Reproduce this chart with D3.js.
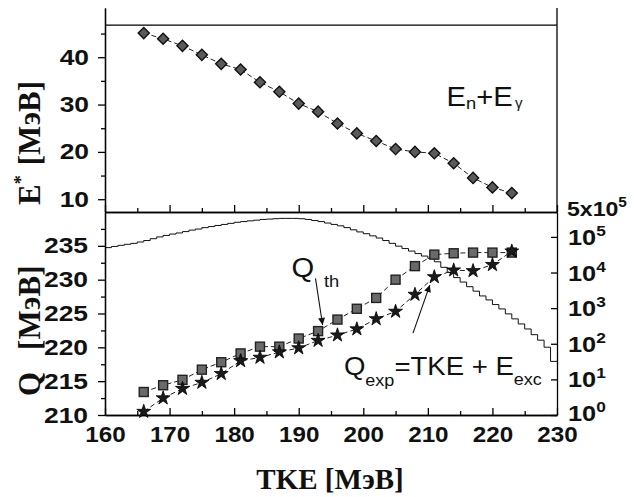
<!DOCTYPE html>
<html>
<head>
<meta charset="utf-8">
<script src="https://cdn.jsdelivr.net/npm/d3@7"></script>
<style>
  body { margin: 0; background: #fff; }
  svg { display: block; }
</style>
</head>
<body>
<svg id="chart" width="637" height="497"></svg>
<script>
// ---- data -------------------------------------------------------------
// fragment total kinetic energy (MeV) of the measured points
const tke = [166, 169, 172, 175, 178, 181, 184, 187, 190, 193,
             196, 199, 202, 205, 208, 211, 214, 217, 220, 223];
// excitation energy E* = En + Eγ (MeV)
const eStar = [45.1, 43.9, 42.4, 40.5, 38.6, 37.4, 34.7, 32.7, 30.2, 28.5,
               26.0, 23.9, 22.3, 20.6, 20.0, 19.7, 17.6, 14.5, 12.5, 11.3];
// upper bound of E*
const eStarLimit = 46.8;
// theoretical Q-value (MeV)
const qTh = [213.4, 214.4, 215.2, 216.7, 217.8, 219.1, 220.1, 220.1, 221.3, 222.4,
             224.1, 225.7, 227.3, 230.0, 232.0, 233.7, 233.9, 234.0, 234.0, 234.0];
// experimental Q = TKE + Eexc (MeV)
const qExp = [210.5, 212.5, 213.9, 214.8, 216.1, 218.0, 218.5, 219.3, 219.9, 221.0,
              221.8, 222.7, 224.2, 225.3, 227.8, 230.4, 231.4, 231.3, 232.2, 234.2];
// TKE distribution, 1 MeV bins (left edges) and counts
const yieldBins = [160, 161, 162, 163, 164, 165, 166, 167, 168, 169,
                   170, 171, 172, 173, 174, 175, 176, 177, 178, 179,
                   180, 181, 182, 183, 184, 185, 186, 187, 188, 189,
                   190, 191, 192, 193, 194, 195, 196, 197, 198, 199,
                   200, 201, 202, 203, 204, 205, 206, 207, 208, 209,
                   210, 211, 212, 213, 214, 215, 216, 217, 218, 219,
                   220, 221, 222, 223, 224, 225, 226, 227, 228, 229];
const yieldCounts = [50000, 54000, 58000, 62000, 66000, 72000, 79000, 89000, 100000, 110000,
                     120000, 129000, 141000, 155000, 166000, 182000, 195000, 209000, 224000, 240000,
                     257000, 269000, 282000, 295000, 309000, 316000, 324000, 331000, 331000, 331000,
                     324000, 309000, 288000, 269000, 245000, 224000, 204000, 182000, 158000, 138000,
                     123000, 107000, 93000, 79000, 66000, 55000, 47000, 40000, 34000, 29000,
                     25000, 20000, 14000, 10000, 7200, 5400, 4000, 3000, 2200, 1700,
                     1260, 950, 690, 500, 360, 260, 180, 126, 80, 32];
const binWidth = 1;

// axis ticks and labels
const xTicks = [160, 170, 180, 190, 200, 210, 220, 230];
const xMinorTicks = [165, 175, 185, 195, 205, 215, 225];
const eTicks = [10, 20, 30, 40];
const eMinorTicks = [15, 25, 35, 45];
const qTicks = [210, 215, 220, 225, 230, 235];
const qMinorTicks = [212.5, 217.5, 222.5, 227.5, 232.5, 237.5];
const countTicks = [1, 10, 100, 1000, 10000, 100000];
const countExponents = ["0", "1", "2", "3", "4", "5"];
const countTopLabel = { mantissa: "5x10", exponent: "5", value: 5e5 };

// ---- layout -----------------------------------------------------------
const svg = d3.select("#chart");
const left = 105, right = 557;
const topY0 = 8, split = 212, bottom = 415;
const stretch = 1.2;             // horizontal stretch of the tick lettering
const tickFont = "'Liberation Sans', Arial, sans-serif";
const titleFont = "'Liberation Serif', 'Times New Roman', serif";

const x = d3.scaleLinear([160, 230], [left, right]);
const yE = d3.scaleLinear([7.3, 50.4], [split, topY0]);
const yQ = d3.scaleLinear([210, 240], [bottom, split]);
const yN = d3.scaleLog([1, 5e5], [bottom, split]);

function styleAxis(g) {
  g.selectAll("path.domain").attr("stroke", "#000").attr("stroke-width", 1.3);
  g.selectAll(".tick line").attr("stroke", "#000").attr("stroke-width", 1.3);
  g.selectAll(".tick text")
    .attr("fill", "#111")
    .style("font-family", tickFont)
    .style("font-weight", "bold")
    .style("font-size", "22px");
}

// ---- top panel: E* -----------------------------------------------------
const gEL = svg.append("g").attr("transform", `translate(${left},0)`)
  .call(d3.axisLeft(yE).tickValues(eTicks).tickSizeInner(7).tickSizeOuter(0).tickPadding(0)
        .tickFormat(d3.format("d")));
styleAxis(gEL);
gEL.selectAll(".tick text").attr("x", 0)
  .attr("transform", `translate(-16,0) scale(${stretch},1)`);
svg.append("g").attr("transform", `translate(${left},0)`)
  .call(d3.axisLeft(yE).tickValues(eMinorTicks).tickSizeInner(4).tickSizeOuter(0).tickFormat(""))
  .call(styleAxis);

// right edge of the upper panel
svg.append("line").attr("x1", right).attr("x2", right).attr("y1", topY0).attr("y2", split)
  .attr("stroke", "#000").attr("stroke-width", 1.3);
// E* limit line
svg.append("line").attr("x1", left).attr("x2", right)
  .attr("y1", yE(eStarLimit)).attr("y2", yE(eStarLimit))
  .attr("stroke", "#000").attr("stroke-width", 1.3);
// inward ticks on the panel divider
svg.append("g").attr("transform", `translate(0,${split})`)
  .call(d3.axisTop(x).tickValues(xTicks).tickSizeInner(7).tickSizeOuter(0).tickFormat(""))
  .call(styleAxis);
svg.append("g").attr("transform", `translate(0,${split})`)
  .call(d3.axisTop(x).tickValues(xMinorTicks).tickSizeInner(4).tickSizeOuter(0).tickFormat(""))
  .call(styleAxis);

const dashed = { stroke: "#222", width: 1, dash: "5,3" };
svg.append("path")
  .datum(tke.map((t, i) => [t, eStar[i]]))
  .attr("fill", "none").attr("stroke", dashed.stroke).attr("stroke-width", dashed.width)
  .attr("stroke-dasharray", dashed.dash)
  .attr("d", d3.line().x(d => x(d[0])).y(d => yE(d[1])));

const diamond = d3.symbol(d3.symbolSquare, 62);
svg.append("g").selectAll("path").data(tke.map((t, i) => [t, eStar[i]])).join("path")
  .attr("d", diamond)
  .attr("transform", d => `translate(${x(d[0])},${yE(d[1])}) rotate(45)`)
  .attr("fill", "#5a5a5a").attr("stroke", "#111").attr("stroke-width", 1.4);

// En + Eγ label
const eLabel = { tke: 212.9, e: 29.7 };
const tE = svg.append("text")
  .attr("transform", `translate(${x(eLabel.tke)},${yE(eLabel.e)}) scale(1.08,1)`)
  .style("font-family", tickFont).style("font-size", "27px").attr("fill", "#111");
tE.append("tspan").text("E");
tE.append("tspan").attr("dy", 3).style("font-size", "17px").text("n");
tE.append("tspan").attr("dy", -3).text("+E");
tE.append("tspan").attr("dy", 2).attr("dx", 2).style("font-size", "14px").text("γ");

// ---- bottom panel: Q and TKE distribution -----------------------------
svg.append("defs").append("clipPath").attr("id", "lowerClip")
  .append("rect").attr("x", left).attr("y", split).attr("width", right - left).attr("height", bottom - split);

const stepPts = yieldBins.map((b, i) => [b, yieldCounts[i]]);
stepPts.push([yieldBins[yieldBins.length - 1] + binWidth, yieldCounts[yieldCounts.length - 1]]);
svg.append("path").datum(stepPts)
  .attr("clip-path", "url(#lowerClip)")
  .attr("fill", "none").attr("stroke", "#111").attr("stroke-width", 1)
  .attr("d", d3.line().x(d => x(d[0])).y(d => yN(d[1])).curve(d3.curveStepAfter));

// left Q axis
const gQL = svg.append("g").attr("transform", `translate(${left},0)`)
  .call(d3.axisLeft(yQ).tickValues(qTicks).tickSizeInner(7).tickSizeOuter(0).tickPadding(0)
        .tickFormat(d3.format("d")));
styleAxis(gQL);
gQL.selectAll(".tick text").attr("x", 0)
  .attr("transform", `translate(-17,0) scale(${stretch},1)`);
svg.append("g").attr("transform", `translate(${left},0)`)
  .call(d3.axisLeft(yQ).tickValues(qMinorTicks).tickSizeInner(4).tickSizeOuter(0).tickFormat(""))
  .call(styleAxis);

// bottom TKE axis, ticks pointing inward
const gX = svg.append("g").attr("transform", `translate(0,${bottom})`)
  .call(d3.axisBottom(x).tickValues(xTicks).tickSizeInner(-7).tickSizeOuter(0).tickPadding(0)
        .tickFormat(d3.format("d")));
styleAxis(gX);
gX.selectAll(".tick text").attr("y", 0)
  .attr("transform", `translate(0,11) scale(1.1,1)`);
svg.append("g").attr("transform", `translate(0,${bottom})`)
  .call(d3.axisBottom(x).tickValues(xMinorTicks).tickSizeInner(-4).tickSizeOuter(0).tickFormat(""))
  .call(styleAxis);

// right logarithmic axis (counts)
const gR = svg.append("g").attr("transform", `translate(${right},0)`)
  .call(d3.axisRight(yN).tickValues(countTicks).tickSizeInner(-6).tickSizeOuter(0).tickFormat(""));
styleAxis(gR);
countTicks.forEach((v, i) => {
  const t = svg.append("text")
    .attr("transform", `translate(${right + 11},${yN(v) + (i === 0 ? 6 : 8)}) scale(1.15,1)`)
    .style("font-family", tickFont).style("font-weight", "bold").style("font-size", "22px")
    .attr("fill", "#111");
  t.append("tspan").text("10");
  t.append("tspan").attr("dy", -9).style("font-size", "15px").text(countExponents[i]);
});
{
  const t = svg.append("text")
    .attr("transform", `translate(${right + 10},${yN(countTopLabel.value) + 4}) scale(1.1,1)`)
    .style("font-family", tickFont).style("font-weight", "bold").style("font-size", "21px")
    .attr("fill", "#111");
  t.append("tspan").text(countTopLabel.mantissa);
  t.append("tspan").attr("dy", -9).style("font-size", "14px").text(countTopLabel.exponent);
}

// Q series: dashed connectors, squares, stars
[qTh, qExp].forEach(series => {
  svg.append("path").datum(tke.map((t, i) => [t, series[i]]))
    .attr("fill", "none").attr("stroke", dashed.stroke).attr("stroke-width", dashed.width)
    .attr("stroke-dasharray", dashed.dash)
    .attr("d", d3.line().x(d => x(d[0])).y(d => yQ(d[1])));
});
svg.append("g").selectAll("rect").data(tke.map((t, i) => [t, qTh[i]])).join("rect")
  .attr("x", d => x(d[0]) - 4.5).attr("y", d => yQ(d[1]) - 4.5)
  .attr("width", 9).attr("height", 9)
  .attr("fill", "#6a6a6a").attr("stroke", "#222").attr("stroke-width", 1.4);
const star = d3.symbol(d3.symbolStar, 60);
svg.append("g").selectAll("path").data(tke.map((t, i) => [t, qExp[i]])).join("path")
  .attr("d", star)
  .attr("transform", d => `translate(${x(d[0])},${yQ(d[1])})`)
  .attr("fill", "#1a1a1a").attr("stroke", "#000").attr("stroke-width", 0.8);

// annotations
svg.select("defs").append("marker").attr("id", "arrowHead")
  .attr("viewBox", "0 0 10 10").attr("refX", 10).attr("refY", 5)
  .attr("markerWidth", 9).attr("markerHeight", 7).attr("markerUnits", "userSpaceOnUse")
  .attr("orient", "auto")
  .append("path").attr("d", "M0,0 L10,5 L0,10 z").attr("fill", "#111");

const qThLabel = { tke: 188.9, q: 230.4 };
const qThArrow = { from: [192.6, 230.2], to: [193.7, 223.3] };
const qExpLabel = { tke: 197.0, q: 215.9 };
const qExpArrow = { from: [207.7, 222.1], to: [210.3, 229.2] };

[qThArrow, qExpArrow].forEach(a => {
  svg.append("line")
    .attr("x1", x(a.from[0])).attr("y1", yQ(a.from[1]))
    .attr("x2", x(a.to[0])).attr("y2", yQ(a.to[1]))
    .attr("stroke", "#111").attr("stroke-width", 1.1)
    .attr("marker-end", "url(#arrowHead)");
});

const tTh = svg.append("text")
  .attr("transform", `translate(${x(qThLabel.tke)},${yQ(qThLabel.q)}) scale(1.08,1)`)
  .style("font-family", tickFont).style("font-size", "27px").attr("fill", "#111");
tTh.append("tspan").text("Q");
tTh.append("tspan").attr("dx", 9).attr("dy", 10).style("font-size", "17px").text("th");

const tExp = svg.append("text")
  .attr("transform", `translate(${x(qExpLabel.tke)},${yQ(qExpLabel.q)}) scale(1.06,1)`)
  .style("font-family", tickFont).style("font-size", "26px").attr("fill", "#111");
tExp.append("tspan").text("Q");
tExp.append("tspan").attr("dy", 11).style("font-size", "17px").text("exp");
tExp.append("tspan").attr("dy", -11).text("=TKE + E");
tExp.append("tspan").attr("dy", 10).style("font-size", "17px").text("exc");

// axis titles (rotated ones are drawn from their lower end upward)
function title(parts, tx, ty, rot, anchor, size) {
  const t = svg.append("text")
    .attr("transform", `translate(${tx},${ty})` + (rot ? " rotate(-90)" : ""))
    .attr("text-anchor", anchor)
    .style("font-family", titleFont).style("font-weight", "bold").style("font-size", size)
    .attr("fill", "#111");
  parts.forEach(p => {
    const s = t.append("tspan").text(p.text);
    if (p.dy) s.attr("dy", p.dy);
    if (p.dx) s.attr("dx", p.dx);
    if (p.size) s.style("font-size", p.size);
  });
}
title([{ text: "E" }, { text: "*", dy: -13, size: "18px" }, { text: "[МэВ]", dy: 13, dx: 10 }],
      40, 205, true, "start", "31px");
title([{ text: "Q" }, { text: "[МэВ]", dx: 22 }], 40, 396, true, "start", "31px");
title([{ text: "TKE [МэВ]" }], 330, 489, false, "middle", "29px");
</script>
</body>
</html>
